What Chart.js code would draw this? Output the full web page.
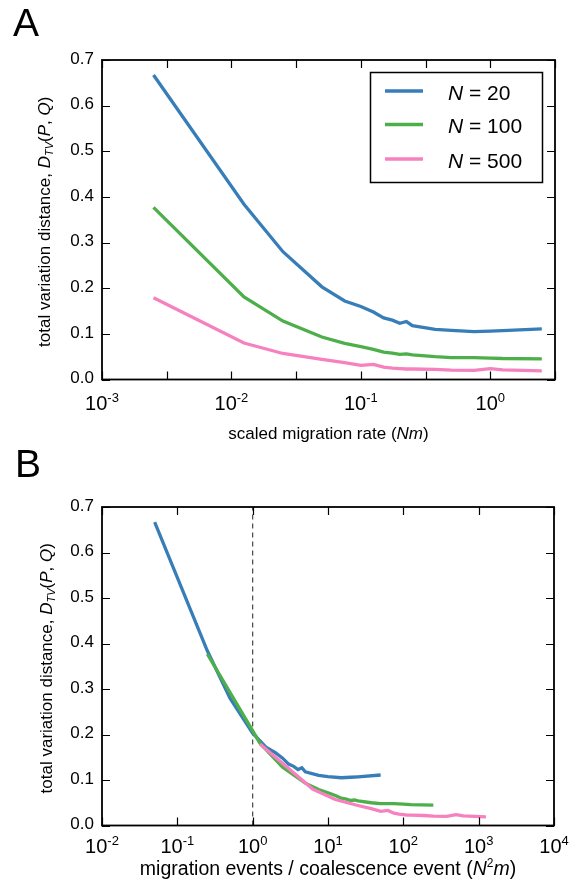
<!DOCTYPE html>
<html>
<head>
<meta charset="utf-8">
<script src="https://cdn.jsdelivr.net/npm/chart.js@4.4.1/dist/chart.umd.min.js"></script>
<style>
  html, body { margin: 0; padding: 0; background: #fff; }
  #wrap { position: relative; width: 577px; height: 881px; }
  #wrap canvas { position: absolute; left: 0; top: 0; }
</style>
</head>
<body>
<div id="wrap">
  <canvas id="chartA" width="577" height="881"></canvas>
  <canvas id="chartB" width="577" height="881"></canvas>
</div>
<script>
// scaled migration rate Nm (same grid for every N)
const scaledRates = [0.0025, 0.0125, 0.025, 0.05, 0.075, 0.1, 0.125, 0.15, 0.175, 0.2, 0.225, 0.25, 0.375, 0.5, 0.75, 1.0, 1.25, 2.5];
const popSizes = [20, 100, 500];
const dtvN20  = [0.667, 0.384, 0.280, 0.203, 0.172, 0.160, 0.148, 0.135, 0.130, 0.123, 0.127, 0.118, 0.110, 0.1075, 0.105, 0.106, 0.107, 0.111];
const dtvN100 = [0.377, 0.181, 0.128, 0.093, 0.079, 0.072, 0.066, 0.060, 0.058, 0.055, 0.056, 0.054, 0.050, 0.048, 0.048, 0.047, 0.046, 0.045];
const dtvN500 = [0.179, 0.080, 0.057, 0.044, 0.037, 0.031, 0.033, 0.027, 0.025, 0.024, 0.023, 0.023, 0.022, 0.0205, 0.020, 0.024, 0.021, 0.019];
const colors = ["#377eb8", "#4daf4a", "#f781bf"];

// ticks
const yTicks = [0, 0.1, 0.2, 0.3, 0.4, 0.5, 0.6, 0.7];
const yTickLabels = ["0.0", "0.1", "0.2", "0.3", "0.4", "0.5", "0.6", "0.7"];
const xTickExpA = [-3, -2.5, -2, -1.5, -1, -0.5, 0, 0.5];
const xLabelExpA = [-3, -2, -1, 0];
const xTickExpB = [-2, -1, 0, 1, 2, 3, 4];
const xLabelExpB = [-2, -1, 0, 1, 2, 3, 4];

const FONT = '"Liberation Sans", Arial, Helvetica, sans-serif';
const series = [dtvN20, dtvN100, dtvN500];

// draw text made of parts: [text, size, italic, dy]
function drawRich(ctx, parts, x, y, align) {
  let total = 0;
  parts.forEach(p => {
    ctx.font = (p[2] ? "italic " : "") + p[1] + "px " + FONT;
    p.w = ctx.measureText(p[0]).width;
    total += p.w;
  });
  let cx = align === "center" ? x - total / 2 : x;
  parts.forEach(p => {
    ctx.font = (p[2] ? "italic " : "") + p[1] + "px " + FONT;
    ctx.fillText(p[0], cx, y + (p[3] || 0));
    cx += p.w;
  });
}

function makeFrame(cfg) {
  return {
    id: "frame",
    afterDraw(chart) {
      const ctx = chart.ctx;
      const a = chart.chartArea;
      const xs = chart.scales.x, ys = chart.scales.y;
      ctx.save();
      ctx.strokeStyle = "#000";
      ctx.fillStyle = "#000";

      // inward ticks on all sides
      ctx.lineWidth = 1.2;
      ctx.beginPath();
      yTicks.forEach(v => {
        const py = Math.round(ys.getPixelForValue(v)) + 0.5;
        ctx.moveTo(a.left, py); ctx.lineTo(a.left + 8, py);
        ctx.moveTo(a.right, py); ctx.lineTo(a.right - 8, py);
      });
      cfg.xTickExp.forEach(e => {
        const px = Math.round(xs.getPixelForValue(Math.pow(10, e))) + 0.5;
        ctx.moveTo(px, a.bottom); ctx.lineTo(px, a.bottom - 8);
        ctx.moveTo(px, a.top); ctx.lineTo(px, a.top + 8);
      });
      ctx.stroke();

      ctx.lineWidth = 1.8;
      ctx.strokeRect(a.left, a.top, a.right - a.left, a.bottom - a.top);

      // y tick labels
      ctx.font = "17px " + FONT;
      ctx.textAlign = "right";
      ctx.textBaseline = "middle";
      yTicks.forEach((v, i) => ctx.fillText(yTickLabels[i], a.left - 8, ys.getPixelForValue(v) - 1));

      // x tick labels 10^e
      ctx.textAlign = "left";
      ctx.textBaseline = "alphabetic";
      cfg.xLabelExp.forEach(e => {
        const px = xs.getPixelForValue(Math.pow(10, e));
        drawRich(ctx, [["10", 20, false, 0], [String(e), 13, false, -8]], px, cfg.xLabelY, "center");
      });

      // x title
      const cxm = (a.left + a.right) / 2;
      drawRich(ctx, cfg.xTitle, cxm, cfg.xTitleY, "center");

      // y title
      ctx.save();
      ctx.translate(cfg.yTitleX, (a.top + a.bottom) / 2 + 2);
      ctx.rotate(-Math.PI / 2);
      drawRich(ctx, [
        ["total variation distance, ", 17, false, 0],
        ["D", 17, true, 0],
        ["TV", 11, true, 3],
        ["(", 17, false, 0],
        ["P", 17, true, 0],
        [", ", 17, false, 0],
        ["Q", 17, true, 0],
        [")", 17, false, 0]
      ], 0, 0, "center");
      ctx.restore();

      // panel letter
      ctx.font = "39px " + FONT;
      ctx.fillText(cfg.letter, cfg.letterX, cfg.letterY);

      // legend
      if (cfg.legend) {
        const L = cfg.legend;
        ctx.fillStyle = "#fff";
        ctx.fillRect(L.x, L.y, L.w, L.h);
        ctx.lineWidth = 1.5;
        ctx.strokeStyle = "#000";
        ctx.strokeRect(L.x + 0.5, L.y + 0.5, L.w, L.h);
        let row = 0;
        chart.data.datasets.forEach(ds => {
          if (ds.skipLegend) return;
          const ly = L.rowY[row++];
          ctx.strokeStyle = ds.borderColor;
          ctx.lineWidth = 3.3;
          ctx.beginPath();
          ctx.moveTo(L.x + 15, ly); ctx.lineTo(L.x + 53, ly);
          ctx.stroke();
          ctx.fillStyle = "#000";
          drawRich(ctx, [["N", 21, true, 0], [" = " + ds.popSize, 21, false, 0]], L.x + 78, ly + 8.5, "left");
        });
      }
      ctx.restore();
    }
  };
}

function lineSets(scaleByN) {
  return popSizes.map((n, i) => ({
    label: "N = " + n,
    popSize: n,
    data: scaledRates.map((r, j) => ({ x: scaleByN ? r * n : r, y: series[i][j] })),
    borderColor: colors[i],
    backgroundColor: colors[i],
    borderWidth: 3.3,
    pointRadius: 0,
    tension: 0,
    fill: false,
    order: 3 - i
  }));
}

function baseOptions(xMin, xMax, pad) {
  return {
    responsive: false,
    animation: false,
    devicePixelRatio: 1,
    layout: { padding: pad },
    plugins: { legend: { display: false }, tooltip: { enabled: false } },
    scales: {
      x: { type: "logarithmic", min: xMin, max: xMax, display: false },
      y: { type: "linear", min: 0, max: 0.7, display: false }
    }
  };
}

// Panel A
new Chart(document.getElementById("chartA"), {
  type: "line",
  data: { datasets: lineSets(false) },
  options: baseOptions(Math.pow(10, -3), Math.pow(10, 0.5), { left: 102, top: 60, right: 22, bottom: 501.5 }),
  plugins: [makeFrame({
    xTickExp: xTickExpA,
    xLabelExp: xLabelExpA,
    xLabelY: 410,
    xTitle: [["scaled migration rate (", 17, false, 0], ["Nm", 17, true, 0], [")", 17, false, 0]],
    xTitleY: 439,
    yTitleX: 50,
    letter: "A", letterX: 13, letterY: 36,
    legend: { x: 370, y: 72, w: 172, h: 110, rowY: [91, 124.5, 159] }
  })]
});

// Panel B
const dsB = lineSets(true);
dsB.push({
  label: "N2m = 1",
  skipLegend: true,
  data: [{ x: 1, y: 0 }, { x: 1, y: 0.7 }],
  borderColor: "#444",
  borderWidth: 1.2,
  borderDash: [5, 4],
  pointRadius: 0,
  order: 5
});
new Chart(document.getElementById("chartB"), {
  type: "line",
  data: { datasets: dsB },
  options: baseOptions(Math.pow(10, -2), Math.pow(10, 4), { left: 102, top: 507, right: 23, bottom: 55.5 }),
  plugins: [makeFrame({
    xTickExp: xTickExpB,
    xLabelExp: xLabelExpB,
    xLabelY: 853,
    xTitle: [["migration events / coalescence event (", 19.5, false, 0], ["N", 19.5, true, 0], ["2", 12, false, -8], ["m", 19.5, true, 0], [")", 19.5, false, 0]],
    xTitleY: 875,
    yTitleX: 52,
    letter: "B", letterX: 15, letterY: 477,
    legend: null
  })]
});
</script>
</body>
</html>
